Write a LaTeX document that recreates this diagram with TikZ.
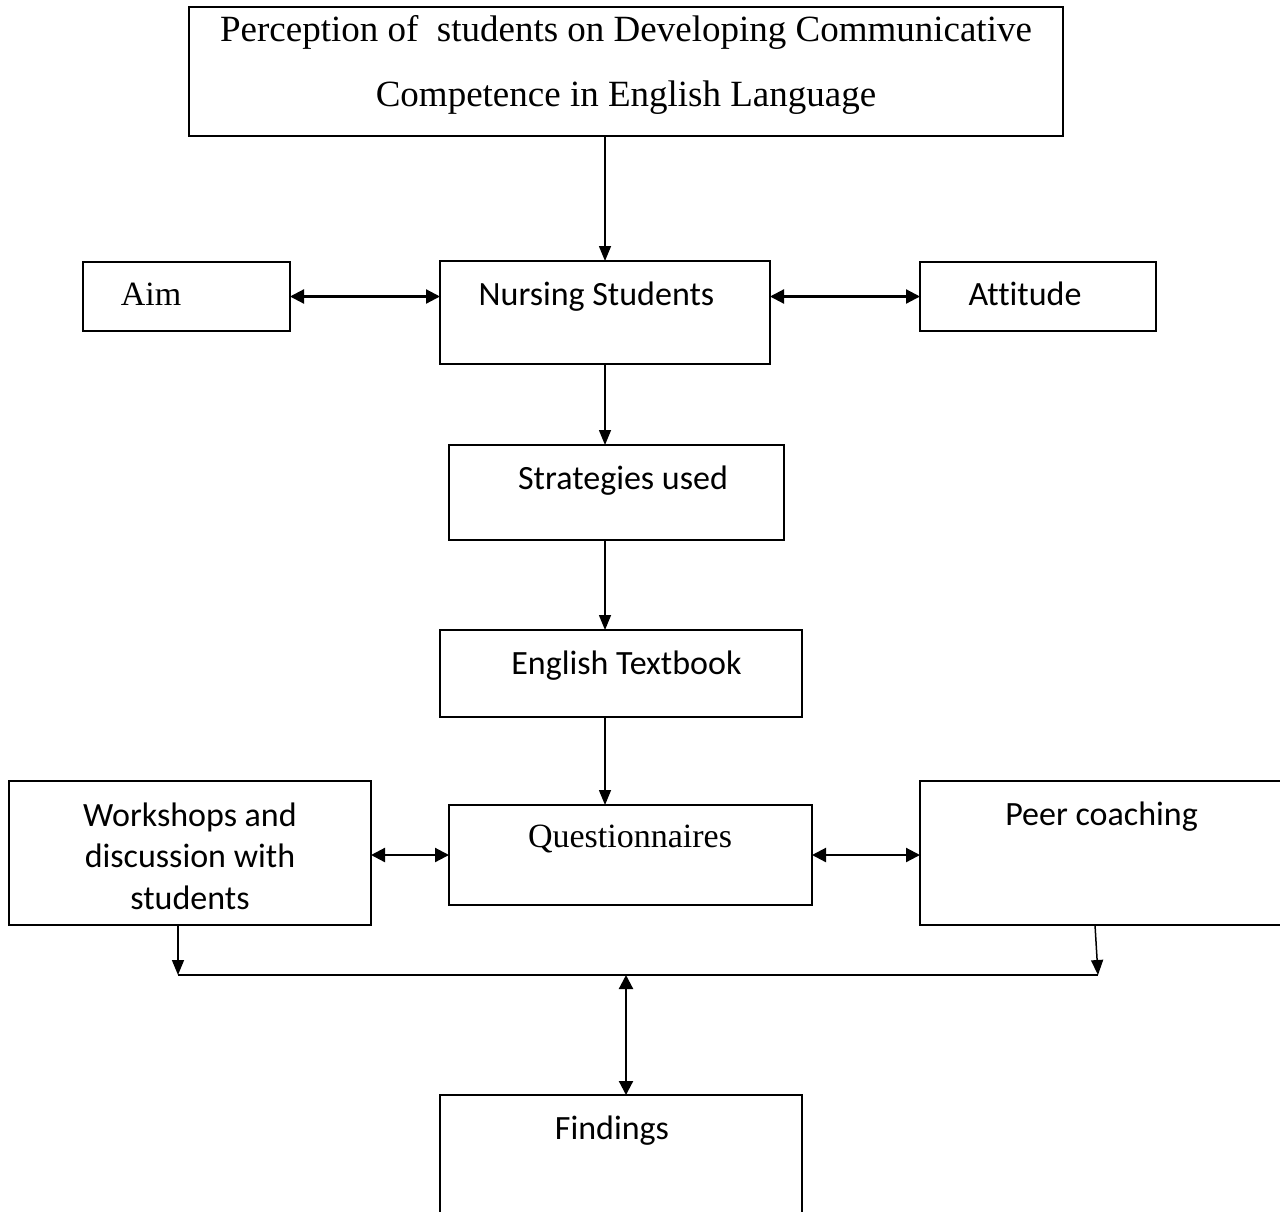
\documentclass[tikz,border=0pt]{standalone}
\usepackage{fontspec}
\setmainfont{Liberation Serif}
\newfontfamily\calfont[Ligatures=NoCommon]{Carlito}
\usetikzlibrary{arrows.meta,calc}
\tikzset{
  box/.style={draw, line width=1pt, inner sep=0pt, outer sep=0pt, anchor=north west},
  sanstxt/.style={font=\calfont\fontsize{17}{20}\selectfont, anchor=base, inner sep=0pt},
  seriftxt/.style={font=\fontsize{17}{20}\selectfont, anchor=base, inner sep=0pt},
  titletxt/.style={font=\fontsize{18.5}{20}\selectfont, anchor=base, inner sep=0pt},
  arr/.style={line width=0.75pt, -{Triangle[length=7.5pt,width=6pt]}},
  darr/.style={line width=1.1pt, {Triangle[length=7pt,width=7pt]}-{Triangle[length=7pt,width=7pt]}},
  plain/.style={line width=1pt}
}
\begin{document}
\begin{tikzpicture}[x=0.5pt,y=-0.5pt]
\useasboundingbox (0,0) rectangle (1280,1211);
\fill[white] (0,0) rectangle (1280,1211);
\clip (0,0) rectangle (1280,1211);
% boxes
\node[box, minimum width=437pt, minimum height=64.5pt] (title) at (189,7) {};
\node[box, minimum width=103.5pt, minimum height=34.5pt] (aim) at (83,262) {};
\node[box, minimum width=165pt, minimum height=51.5pt] (nurs) at (440,261) {};
\node[box, minimum width=118pt, minimum height=34.5pt] (att) at (920,262) {};
\node[box, minimum width=167.5pt, minimum height=47.5pt] (strat) at (449,445) {};
\node[box, minimum width=181pt, minimum height=43.5pt] (eng) at (440,630) {};
\node[box, minimum width=181.5pt, minimum height=50pt] (quest) at (449,805) {};
\node[box, minimum width=181pt, minimum height=72pt] (work) at (9,781) {};
\node[box, minimum width=190pt, minimum height=72pt] (peer) at (920,781) {};
\node[box, minimum width=181pt, minimum height=82.5pt] (find) at (440,1095) {};
% texts
\node[titletxt] (t1) at (626,41.7) {Perception of \ students on Developing Communicative};
\node[titletxt] (t2) at (626,106.7) {Competence in English Language};
\node[seriftxt] (taim) at (151,305) {Aim};
\node[sanstxt] (tnurs) at (596.5,305) {Nursing Students};
\node[sanstxt] (tatt) at (1025,305) {Attitude};
\node[sanstxt] (tstrat) at (623,489) {Strategies used};
\node[sanstxt] (teng) at (626.5,674) {English Textbook};
\node[seriftxt] (tquest) at (630,847) {Questionnaires};
\node[sanstxt] (tw1) at (190,826) {Workshops and};
\node[sanstxt] (tw2) at (190,867) {discussion with};
\node[sanstxt] (tw3) at (190,909) {students};
\node[sanstxt] (tpeer) at (1101.5,825) {Peer coaching};
\node[sanstxt] (tfind) at (612,1139) {Findings};
% junction coordinates
\coordinate (jl) at (178,975);
\coordinate (jr) at (1098,975);
\coordinate (jm) at (626,975);
\coordinate (pd) at (1095,925);
% connectors
\draw[arr] (title.south -| nurs.north) -- (nurs.north);
\draw[darr] (aim.east) -- (aim.east -| nurs.west);
\draw[darr] (att.west -| nurs.east) -- (att.west);
\draw[arr] (nurs.south) -- (nurs.south |- strat.north);
\draw[arr] (nurs.south |- strat.south) -- (nurs.south |- eng.north);
\draw[arr] (nurs.south |- eng.south) -- (nurs.south |- quest.north);
\draw[darr] (quest.west -| work.east) -- (quest.west);
\draw[darr] (quest.east) -- (quest.east -| peer.west);
\draw[arr] (jl |- work.south) -- (jl);
\draw[arr] (pd) -- (jr);
\draw[plain] (jl) -- (jr);
\draw[darr] (jm) -- (jm |- find.north);
\end{tikzpicture}
\end{document}
